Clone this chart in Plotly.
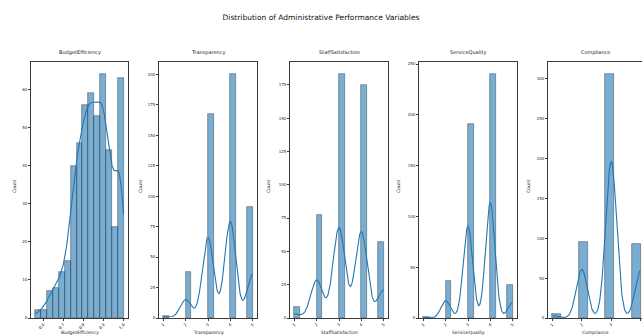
import numpy as np
import plotly.graph_objects as go

# ---------------- data ----------------
main_title = "Distribution of Administrative Performance Variables"
variables = ["BudgetEfficiency", "Transparency", "StaffSatisfaction", "ServiceQuality", "Compliance"]

# BudgetEfficiency: histogram counts of 15 equal bins between bin_lo and bin_hi
budget_bin_lo = 0.56
budget_bin_hi = 1.00
budget_counts = [2, 2, 7, 8, 12, 15, 40, 46, 56, 59, 53, 64, 44, 24, 63]

# Ordinal scores: value -> number of records
transparency_values = [1, 2, 3, 4, 5]
transparency_counts = [2, 38, 167, 200, 91]

staff_values = [1, 2, 3, 4, 5]
staff_counts = [8, 77, 183, 175, 57]

service_values = [1, 2, 3, 4, 5]
service_counts = [1, 36, 191, 240, 32]

compliance_values = [1, 2, 3, 4]
compliance_counts = [5, 95, 306, 93]

budget_ticks = [0.6, 0.7, 0.8, 0.9, 1.0]

# ---------------- helpers ----------------
W, H = 642, 335
BAR_FILL = "rgba(31,119,180,0.6)"
BAR_EDGE = "rgba(30,30,30,0.55)"
LINE = "#1f77b4"
FONT = "DejaVu Sans"


def kde_curve(vals, cnts, lo, hi, binw):
    v = np.asarray(vals, float)
    w = np.asarray(cnts, float)
    n = w.sum()
    mean = (v * w).sum() / n
    var = (w * (v - mean) ** 2).sum() / (n - 1)
    h = np.sqrt(var) * n ** (-0.2)  # Scott's rule
    grid = np.linspace(lo, hi, 300)
    dens = (w[None, :] * np.exp(-0.5 * ((grid[:, None] - v[None, :]) / h) ** 2)).sum(1)
    dens /= n * h * np.sqrt(2 * np.pi)
    return grid, dens * n * binw


def discrete_hist(vals, cnts, nbins):
    lo, hi = min(vals), max(vals)
    edges = np.linspace(lo, hi, nbins + 1)
    bw = edges[1] - edges[0]
    idx = np.clip(np.searchsorted(edges, vals, side="right") - 1, 0, nbins - 1)
    centers = edges[idx] + bw / 2
    return centers, bw, lo, hi


# panel geometry (pixels)
panel_px = [(31, 128), (159, 257), (290, 388), (419, 517), (548, 642)]
plot_top, plot_bot = 62, 318
ylab_px = [14, 140, 268, 398, 528]

fig = go.Figure()
layout = {}

panels = []
nb = len(budget_counts)
bw1 = (budget_bin_hi - budget_bin_lo) / nb
centers1 = budget_bin_lo + bw1 * (np.arange(nb) + 0.5)
panels.append(dict(centers=centers1, counts=budget_counts, bw=bw1,
                   kde=kde_curve(centers1, budget_counts, budget_bin_lo, budget_bin_hi, bw1),
                   lo=budget_bin_lo, hi=budget_bin_hi, dtick_y=10))
for vals, cnts, nbins, dty in [(transparency_values, transparency_counts, 16, 25),
                               (staff_values, staff_counts, 16, 25),
                               (service_values, service_counts, 16, 50),
                               (compliance_values, compliance_counts, 10, 50)]:
    c, bw, lo, hi = discrete_hist(vals, cnts, nbins)
    panels.append(dict(centers=c, counts=cnts, bw=bw,
                       kde=kde_curve(vals, cnts, lo, hi, bw), lo=lo, hi=hi, dtick_y=dty))

annotations = []
for i, p in enumerate(panels):
    k = i + 1
    xa = "x" if k == 1 else f"x{k}"
    ya = "y" if k == 1 else f"y{k}"
    fig.add_trace(go.Bar(x=p["centers"], y=p["counts"], width=p["bw"], xaxis=xa, yaxis=ya,
                         marker=dict(color=BAR_FILL, line=dict(color=BAR_EDGE, width=0.7)),
                         showlegend=False, hoverinfo="skip"))
    gx, gy = p["kde"]
    fig.add_trace(go.Scatter(x=gx, y=gy, mode="lines", xaxis=xa, yaxis=ya,
                             line=dict(color=LINE, width=1.1), showlegend=False,
                             hoverinfo="skip"))
    span = p["hi"] - p["lo"]
    xr = [p["lo"] - 0.05 * span, p["hi"] + 0.05 * span]
    l, r = panel_px[i]
    if k == 5:
        full = 97.0
        xr = [xr[0], xr[0] + (xr[1] - xr[0]) * (r - l) / full]
    ymax = max(p["counts"]) * 1.05
    axis_common = dict(showline=True, linecolor="#3a3a3a", linewidth=0.7, mirror=True,
                       ticks="outside", ticklen=2, tickwidth=0.6, tickcolor="#3a3a3a",
                       showgrid=False, zeroline=False, automargin=False,
                       tickfont=dict(size=4, color="#222", family=FONT))
    xkey = "xaxis" if k == 1 else f"xaxis{k}"
    ykey = "yaxis" if k == 1 else f"yaxis{k}"
    xdict = dict(domain=[l / W, r / W], range=xr, anchor=ya, tickangle=-45, **axis_common)
    if k == 1:
        xdict.update(tickvals=budget_ticks, ticktext=[f"{t:.1f}" for t in budget_ticks])
    else:
        xdict.update(dtick=1, tick0=0)
    layout[xkey] = xdict
    layout[ykey] = dict(domain=[(H - plot_bot) / H, (H - plot_top) / H], range=[0, ymax],
                        anchor=xa, dtick=p["dtick_y"], tick0=0, **axis_common)
    cx = (panel_px[i][0] + panel_px[i][1]) / 2 / W
    annotations.append(dict(text=variables[i], x=cx, y=(H - 52) / H, xref="paper", yref="paper",
                            showarrow=False, xanchor="center", yanchor="middle",
                            font=dict(size=5, color="#222", family=FONT)))
    annotations.append(dict(text=variables[i], x=cx, y=(H - 332.5) / H, xref="paper", yref="paper",
                            showarrow=False, xanchor="center", yanchor="middle",
                            font=dict(size=4.5, color="#222", family=FONT)))
    annotations.append(dict(text="Count", x=ylab_px[i] / W, y=(H - 186) / H,
                            xref="paper", yref="paper", showarrow=False, textangle=-90,
                            xanchor="center", yanchor="middle",
                            font=dict(size=4.5, color="#222", family=FONT)))

fig.update_layout(
    width=W, height=H,
    margin=dict(l=0, r=0, t=0, b=0),
    paper_bgcolor="white", plot_bgcolor="white",
    bargap=0,
    title=dict(text=main_title, x=0.5, xanchor="center", y=(H - 17) / H, yanchor="middle",
               font=dict(size=7.5, color="#111", family=FONT)),
    annotations=annotations,
    **layout,
)

fig.write_html("out.html", config={"displayModeBar": False},
               post_script="document.body.style.margin='0';document.body.style.overflow='hidden';")
